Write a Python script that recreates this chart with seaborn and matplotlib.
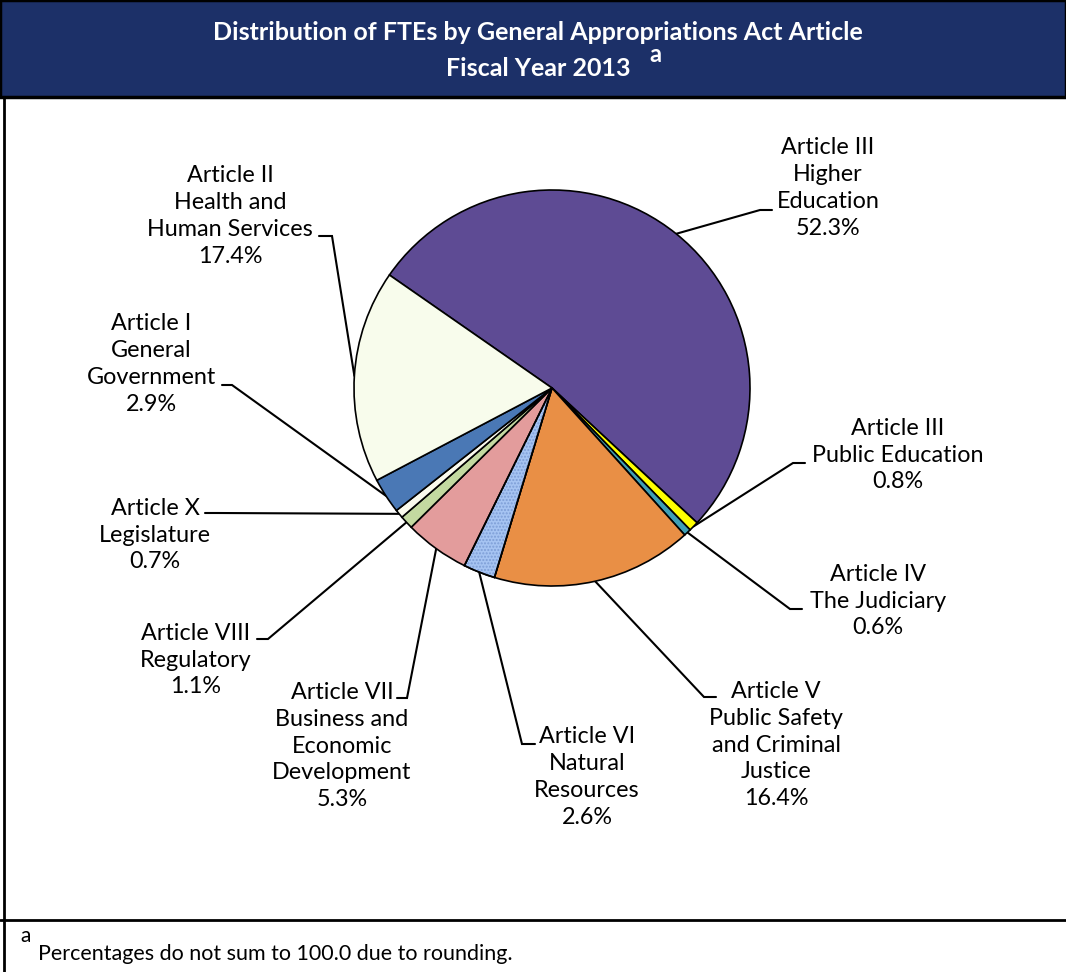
import numpy as np
import pandas as pd
import seaborn as sns
import matplotlib.pyplot as plt
from matplotlib.patches import Rectangle, Wedge

sns.set_theme(style='white')
plt.rcParams['font.family'] = ['Lato', 'DejaVu Sans']

# ---------------- data ----------------
articles = ['Article III\nHigher\nEducation',
            'Article III\nPublic Education',
            'Article IV\nThe Judiciary',
            'Article V\nPublic Safety\nand Criminal\nJustice',
            'Article VI\nNatural\nResources',
            'Article VII\nBusiness and\nEconomic\nDevelopment',
            'Article VIII\nRegulatory',
            'Article X\nLegislature',
            'Article I\nGeneral\nGovernment',
            'Article II\nHealth and\nHuman Services']
pct = [52.3, 0.8, 0.6, 16.4, 2.6, 5.3, 1.1, 0.7, 2.9, 17.4]
colors = ['#5e4b94', '#ffff00', '#3f9fb5', '#e98f45', '#a6c4f2',
          '#e39c9c', '#c3d9a0', '#fbfbee', '#4a78b5', '#f8fcec']

df = pd.DataFrame({'article': articles, 'pct': pct, 'color': colors})

# label layout in pixels (from top-left): text centre, elbow, tick end
text_pos = [(828, 188), (898, 455), (878, 601), (776, 745), (587, 777),
            (342, 746), (196, 660), (155, 535), (151, 364), (230, 216)]
elbow_pos = [(760, 210), (793, 463), (790, 609), (704, 697), (522, 744),
             (407, 698), (268, 639), (217, 513), (232, 385), (332, 236)]
tick_pos = [(772, 210), (805, 463), (802, 609), (716, 697), (535, 744),
            (397, 698), (257, 639), (205, 513), (222, 385), (319, 236)]

W, H = 1066, 972
fig = plt.figure(figsize=(W / 100, H / 100), dpi=100)

# overlay axes in pixel coordinates (frame, title, labels)
ov = fig.add_axes([0, 0, 1, 1])
ov.set_xlim(0, W)
ov.set_ylim(H, 0)
ov.axis('off')

# banner
ov.add_patch(Rectangle((0, 0), W, 97, facecolor='#1c3068', edgecolor='black', lw=2.5))
ov.text(538, 32, 'Distribution of FTEs by General Appropriations Act Article',
        color='white', fontsize=18, fontweight='bold', ha='center', va='center')
ov.text(538, 69, 'Fiscal Year 2013', color='white', fontsize=18,
        fontweight='bold', ha='center', va='center')
ov.text(649, 55, 'a', color='white', fontsize=17, fontweight='bold', ha='left', va='center')

# frame lines
ov.plot([4, 4], [97, H], color='black', lw=2)
ov.plot([0, W], [920, 920], color='black', lw=2)
ov.text(20, 936, 'a', fontsize=15, ha='left', va='center', color='black')
ov.text(38, 954, 'Percentages do not sum to 100.0 due to rounding.',
        fontsize=15.5, ha='left', va='center', color='black')

# ---------------- pie ----------------
cx, cy, r = 552, 388, 198
ax = fig.add_axes([(cx - r) / W, (H - cy - r) / H, 2 * r / W, 2 * r / H])
wedges, _ = ax.pie(df['pct'], colors=df['color'], startangle=145.2, counterclock=False,
                   wedgeprops=dict(edgecolor='black', linewidth=1.2))
ax.set_xlim(-1, 1)
ax.set_ylim(-1, 1)
ax.set_aspect('equal')
ax.patch.set_alpha(0)

# dotted fill on Natural Resources
w = wedges[4]
ax.add_patch(Wedge(w.center, w.r, w.theta1, w.theta2, facecolor='none',
                   edgecolor='#7d9ed6', lw=0, hatch='.....'))
ax.add_patch(Wedge(w.center, w.r, w.theta1, w.theta2, facecolor='none',
                   edgecolor='black', lw=1.2))

# ---------------- labels with leader lines ----------------
to_px = ov.transData.inverted()
for i, wd in enumerate(wedges):
    mid = np.deg2rad((wd.theta1 + wd.theta2) / 2)
    edge = to_px.transform(ax.transData.transform((np.cos(mid), np.sin(mid))))
    ex, ey = elbow_pos[i]
    tx, ty = tick_pos[i]
    ov.plot([edge[0], ex, tx], [edge[1], ey, ty], color='black', lw=1.5,
            solid_joinstyle='miter')
    label = f"{df['article'][i]}\n{df['pct'][i]:.1f}%"
    ov.text(text_pos[i][0], text_pos[i][1], label, fontsize=16.8, ha='center',
            va='center', multialignment='center', linespacing=1.35, color='black')

fig.savefig('out.png', dpi=100)
